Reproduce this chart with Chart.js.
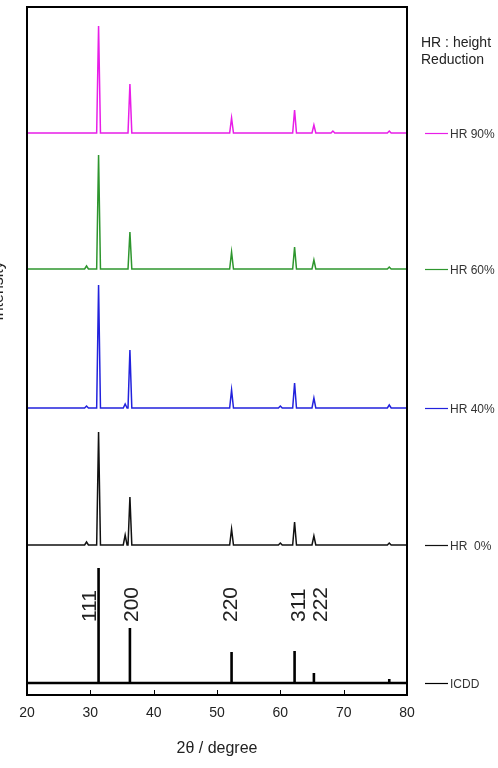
<!DOCTYPE html>
<html>
<head>
<meta charset="utf-8">
<script src="https://cdn.jsdelivr.net/npm/chart.js@4/dist/chart.umd.min.js"></script>
<style>
  html, body { margin: 0; padding: 0; background: #fff; }
  #wrap { width: 498px; height: 768px; }
</style>
</head>
<body>
<div id="wrap"><canvas id="xrd" width="498" height="768"></canvas></div>
<script>
// 2θ axis
const xTicks = [20, 30, 40, 50, 60, 70, 80];

// peak positions (2θ) shared by all traces
const peakPos = [29.4, 31.3, 35.5, 36.25, 52.3, 60.0, 62.25, 65.3, 68.3, 77.2];

// peak heights above each trace's baseline (arb. units)
const hr90 = [0, 107, 0, 49, 15, 0, 23, 8, 2, 2];
const hr60 = [3, 114, 0, 37, 17, 0, 22, 9, 0, 2];
const hr40 = [2, 123, 4, 58, 18, 2, 25, 10, 0, 3];
const hr0 = [3, 113, 10, 48, 16, 2, 23, 9, 0, 2];
const icdd = [0, 115, 0, 55, 31, 0, 32, 10, 0, 4];

// vertical offset of each stacked trace (arb. units)
const offsets = [562, 426, 287, 150, 12];

const seriesLabels = ["HR 90%", "HR 60%", "HR 40%", "HR  0%", "ICDD"];

// Miller indices written over the ICDD sticks
const hklText = ["111", "200", "220", "311", "222"];
const hklPos = [29.95, 36.6, 52.3, 63.0, 66.5];

const colors = ["#e81ee8", "#2e962e", "#2222dd", "#111111", "#000000"];
const FONT = "'Liberation Sans', Arial, sans-serif";
const HALF = 0.3;

function profile(heights, offset) {
  const pts = [{ x: 20, y: offset }];
  heights.forEach((h, i) => {
    if (!h) return;
    const p = peakPos[i];
    pts.push({ x: p - HALF, y: offset });
    pts.push({ x: p, y: offset + h });
    pts.push({ x: p + HALF, y: offset });
  });
  pts.push({ x: 80, y: offset });
  return pts;
}

function sticks(heights, offset) {
  const pts = [{ x: 20, y: offset }];
  heights.forEach((h, i) => {
    if (!h) return;
    const p = peakPos[i];
    pts.push({ x: p, y: offset });
    pts.push({ x: p, y: offset + h });
    pts.push({ x: p, y: offset });
  });
  pts.push({ x: 80, y: offset });
  return pts;
}

const traces = [hr90, hr60, hr40, hr0];
const datasets = traces.map((t, i) => ({
  label: seriesLabels[i],
  data: profile(t, offsets[i]),
  borderColor: colors[i],
  borderWidth: 1.5,
}));
datasets.push({
  label: seriesLabels[4],
  data: sticks(icdd, offsets[4]),
  borderColor: colors[4],
  borderWidth: 2.6,
});

const decor = {
  id: "decor",
  afterDraw(chart) {
    const { ctx, chartArea: a, scales } = chart;
    const x = scales.x, y = scales.y;
    ctx.save();
    // inner tick marks
    ctx.strokeStyle = "#000";
    ctx.lineWidth = 1;
    xTicks.forEach((t) => {
      const px = Math.round(x.getPixelForValue(t)) + 0.5;
      ctx.beginPath();
      ctx.moveTo(px, a.bottom);
      ctx.lineTo(px, a.bottom - 5);
      ctx.stroke();
    });
    // frame
    ctx.lineWidth = 2;
    ctx.strokeRect(a.left, a.top, a.right - a.left, a.bottom - a.top);

    // hkl labels
    ctx.fillStyle = "#222";
    ctx.font = "21px " + FONT;
    ctx.textAlign = "left";
    ctx.textBaseline = "middle";
    hklText.forEach((s, i) => {
      ctx.save();
      ctx.translate(x.getPixelForValue(hklPos[i]), y.getPixelForValue(offsets[4] + 61));
      ctx.rotate(-Math.PI / 2);
      ctx.fillText(s, 0, 0);
      ctx.restore();
    });

    // legend at each baseline
    ctx.font = "12px " + FONT;
    ctx.textBaseline = "middle";
    chart.data.datasets.forEach((ds, i) => {
      const py = Math.round(y.getPixelForValue(offsets[i])) + 0.5;
      ctx.strokeStyle = ds.borderColor;
      ctx.lineWidth = 1.2;
      ctx.beginPath();
      ctx.moveTo(425, py);
      ctx.lineTo(448, py);
      ctx.stroke();
      ctx.fillStyle = "#333";
      ctx.fillText(ds.label, 450, py + 1);
    });

    ctx.font = "14px " + FONT;
    ctx.fillStyle = "#222";
    ctx.textBaseline = "alphabetic";
    ctx.fillText("HR : height", 421, 47);
    ctx.fillText("Reduction", 421, 64);

    // y title, partly off the canvas
    ctx.save();
    ctx.translate(3, 291);
    ctx.rotate(-Math.PI / 2);
    ctx.textAlign = "center";
    ctx.font = "16px " + FONT;
    ctx.fillText("Intensity", 0, 0);
    ctx.restore();
    ctx.restore();
  },
};

new Chart(document.getElementById("xrd"), {
  type: "line",
  data: { datasets },
  options: {
    responsive: false,
    animation: false,
    events: [],
    layout: { padding: { left: 27, right: 91, top: 7, bottom: 0 } },
    elements: { point: { radius: 0 }, line: { tension: 0 } },
    plugins: { legend: { display: false }, tooltip: { enabled: false } },
    scales: {
      x: {
        type: "linear",
        min: 20,
        max: 80,
        afterBuildTicks: (s) => { s.ticks = xTicks.map((v) => ({ value: v })); },
        afterFit: (s) => { s.height = 73; },
        grid: { display: false, drawTicks: false },
        border: { display: false },
        ticks: { padding: 10, color: "#222", font: { size: 14, family: FONT } },
        title: {
          display: true,
          text: "2θ / degree",
          color: "#222",
          font: { size: 16, family: FONT },
          padding: { top: 0, bottom: 10 },
        },
      },
      y: { display: false, min: 0, max: 688 },
    },
  },
  plugins: [decor],
});
</script>
</body>
</html>
